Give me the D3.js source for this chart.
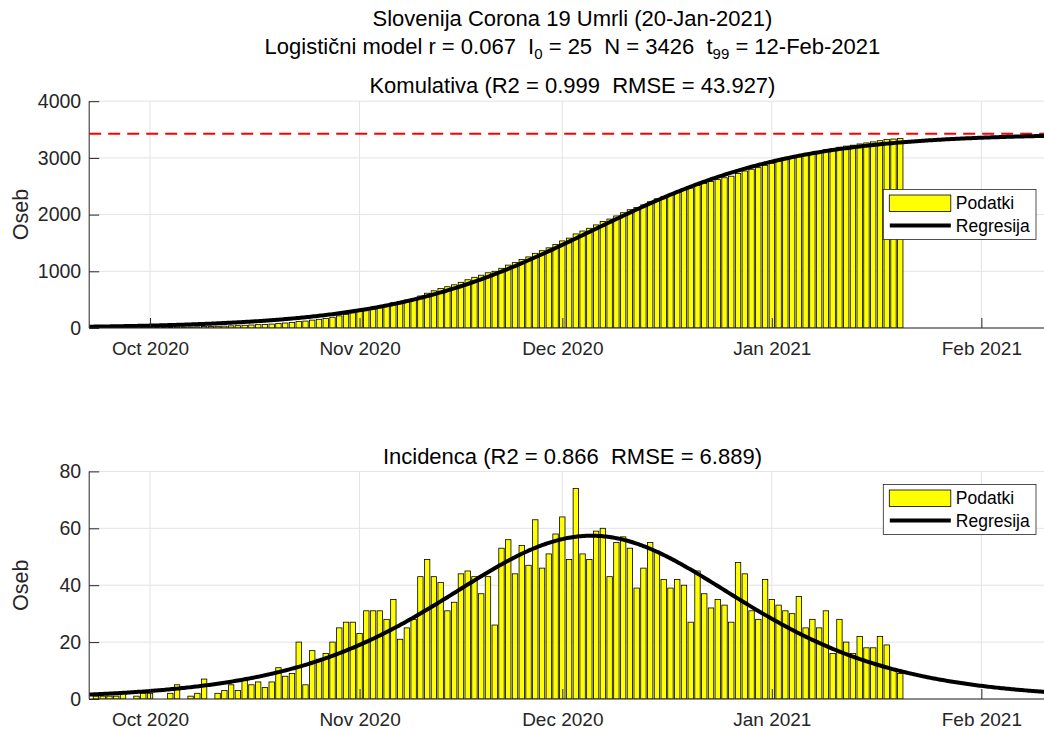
<!DOCTYPE html>
<html>
<head>
<meta charset="utf-8">
<script src="https://cdn.jsdelivr.net/npm/d3@7"></script>
<style>
  html, body { margin: 0; padding: 0; background: #fff; }
  svg { display: block; font-family: "Liberation Sans", Arial, Helvetica, sans-serif; }
  text { white-space: pre; }
</style>
</head>
<body>
<svg id="chart" width="1044" height="729"></svg>
<script>
// ---------------- DATA ----------------
const firstDate = "2020-09-23";           // first daily value
const xDomain = ["2020-09-22", "2021-02-12"];

// daily deaths (Incidenca), 23 Sep 2020 .. 20 Jan 2021
const incidence = [
  1,1,1,1,2,0,1,2,
  2,0,0,2,5,0,1,2,7,0,2,3,5,3,7,5,6,4,6,11,8,9,20,5,17,14,16,20,25,27,27,
  23,31,31,31,28,35,21,25,28,43,49,43,41,31,34,44,45,43,37,43,26,53,56,44,54,47,63,46,51,58,
  64,49,74,51,49,59,60,43,55,57,53,39,46,55,52,42,39,42,40,27,45,37,32,35,33,27,48,44,31,28,42,
  35,33,31,30,36,25,28,25,31,16,28,20,16,22,18,18,22,19,10,9
];

// cumulative deaths (Komulativa)
const cumulative = [
  1,2,3,4,6,6,7,9,
  11,11,11,13,18,18,19,21,28,28,30,33,38,41,48,53,59,63,69,80,88,97,117,122,139,153,169,189,214,241,268,
  291,322,353,384,412,447,468,493,521,564,613,656,697,728,762,806,851,894,931,974,1000,1053,1109,1153,1207,1254,1317,1363,1414,1472,
  1536,1585,1659,1710,1759,1818,1878,1921,1976,2033,2086,2125,2171,2226,2278,2320,2359,2401,2441,2468,2513,2550,2582,2617,2650,2677,2725,2769,2800,2828,2870,
  2905,2938,2969,2999,3035,3060,3088,3113,3144,3160,3188,3208,3224,3246,3264,3282,3304,3323,3333,3342
];

// logistic model parameters (from the title)
const modelR = 0.067;
const modelI0 = 25;
const modelN = 3426;

const yTicksTop = [0, 1000, 2000, 3000, 4000];
const yTicksBottom = [0, 20, 40, 60, 80];
const legendLabels = ["Podatki", "Regresija"];

const title1 = "Slovenija Corona 19 Umrli (20-Jan-2021)";
const titleTop = "Komulativa (R2 = 0.999  RMSE = 43.927)";
const titleBottom = "Incidenca (R2 = 0.866  RMSE = 6.889)";
const yLabel = "Oseb";

// ---------------- LAYOUT ----------------
const svg = d3.select("#chart");
const W = 1044, H = 729;
const left = 89.2, right = 1055.7;
const panels = [
  { top: 101.2, bottom: 328, values: cumulative, ticks: yTicksTop, max: 4000, title: titleTop, titleY: 93, legendY: 189.5, kind: "cum" },
  { top: 471.4, bottom: 699, values: incidence, ticks: yTicksBottom, max: 80, title: titleBottom, titleY: 464, legendY: 484.5, kind: "inc" }
];

const parse = d3.utcParse("%Y-%m-%d");
const t0 = parse(firstDate);
const dates = incidence.map((_, i) => d3.utcDay.offset(t0, i));
const x = d3.scaleUtc().domain(xDomain.map(parse)).range([left, right]);
const dayPx = x(d3.utcDay.offset(t0, 1)) - x(t0);
const barW = dayPx * 0.8;

const axisColor = "#262626";
const gridColor = "#e3e3e3";

// model functions (t in days from first date)
const K = modelN / modelI0 - 1;
const C = t => modelN / (1 + K * Math.exp(-modelR * t));
const dC = t => { const c = C(t); return modelR * c * (1 - c / modelN); };

svg.append("rect").attr("width", W).attr("height", H).attr("fill", "#fff");

// main title
svg.append("text").attr("x", (left + right) / 2).attr("y", 26)
  .attr("text-anchor", "middle").attr("font-size", 22).attr("fill", "#000").text(title1);

const t2 = svg.append("text").attr("x", (left + right) / 2).attr("y", 54)
  .attr("text-anchor", "middle").attr("font-size", 22).attr("fill", "#000");
t2.append("tspan").text("Logistični model r = " + modelR + "  I");
t2.append("tspan").attr("font-size", 15).attr("dy", 5).text("0");
t2.append("tspan").attr("dy", -5).text(" = " + modelI0 + "  N = " + modelN + "  t");
t2.append("tspan").attr("font-size", 15).attr("dy", 5).text("99");
t2.append("tspan").attr("dy", -5).text(" = 12-Feb-2021");

const fmt = d3.utcFormat("%b %Y");
const monthTicks = x.ticks(d3.utcMonth.every(1));

panels.forEach((p, pi) => {
  const y = d3.scaleLinear().domain([0, p.max]).range([p.bottom, p.top]);
  const g = svg.append("g");

  // grid
  g.append("g").selectAll("line").data(monthTicks).join("line")
    .attr("x1", d => x(d)).attr("x2", d => x(d))
    .attr("y1", p.top).attr("y2", p.bottom)
    .attr("stroke", gridColor).attr("stroke-width", 1);
  g.append("g").selectAll("line").data(p.ticks).join("line")
    .attr("x1", left).attr("x2", right)
    .attr("y1", d => y(d)).attr("y2", d => y(d))
    .attr("stroke", gridColor).attr("stroke-width", 1);

  const clipId = "clip" + pi;
  svg.append("clipPath").attr("id", clipId).append("rect")
    .attr("x", left).attr("y", p.top - 3).attr("width", right - left).attr("height", p.bottom - p.top + 3);

  const plot = g.append("g").attr("clip-path", `url(#${clipId})`);

  // bars
  plot.append("g").selectAll("rect").data(p.values).join("rect")
    .attr("x", (d, i) => x(dates[i]) - barW / 2)
    .attr("width", barW)
    .attr("y", d => y(d))
    .attr("height", d => p.bottom - y(d))
    .attr("fill", "#ffff00")
    .attr("stroke", "#000")
    .attr("stroke-width", 0.8);

  // regression curve
  const tStart = (x.domain()[0] - t0) / 864e5;
  const tEnd = (x.domain()[1] - t0) / 864e5;
  const ts = d3.range(tStart, tEnd + 0.001, 0.25);
  const f = p.kind === "cum" ? C : dC;
  const line = d3.line()
    .x(t => x(new Date(+t0 + t * 864e5)))
    .y(t => y(f(t)));
  if (p.kind === "cum") {
    plot.append("line").attr("x1", left).attr("x2", right)
      .attr("y1", y(modelN)).attr("y2", y(modelN))
      .attr("stroke", "#ff0000").attr("stroke-width", 2)
      .attr("stroke-dasharray", "12,7");
  }
  plot.append("path").datum(ts).attr("d", line)
    .attr("fill", "none").attr("stroke", "#000").attr("stroke-width", 4)
    .attr("stroke-linejoin", "round");

  // axes (MATLAB style ticks inside)
  const yAxis = d3.axisLeft(y).tickValues(p.ticks).tickSize(-10).tickPadding(8).tickFormat(d3.format("d"));
  const ya = svg.append("g").attr("transform", `translate(${left},0)`).call(yAxis);
  ya.select(".domain").attr("stroke", axisColor).attr("d", `M0,${p.top}V${p.bottom}`);
  ya.selectAll(".tick line").attr("stroke", axisColor);
  ya.selectAll(".tick text").attr("fill", axisColor).attr("font-size", 19.5)
    .attr("font-family", "Liberation Sans, Arial, sans-serif");

  const xAxis = d3.axisBottom(x).tickValues(monthTicks).tickSize(-10).tickPadding(13.5).tickFormat(fmt);
  const xa = svg.append("g").attr("transform", `translate(0,${p.bottom})`).call(xAxis);
  xa.select(".domain").attr("stroke", axisColor).attr("d", `M${left},0H${right}`);
  xa.selectAll(".tick line").attr("stroke", axisColor);
  xa.selectAll(".tick text").attr("fill", axisColor).attr("font-size", 19)
    .attr("font-family", "Liberation Sans, Arial, sans-serif");

  // panel title
  svg.append("text").attr("x", (left + right) / 2).attr("y", p.titleY)
    .attr("text-anchor", "middle").attr("font-size", 22).attr("fill", "#000").text(p.title);

  // y label
  svg.append("text").attr("transform", `translate(28,${(p.top + p.bottom) / 2}) rotate(-90)`)
    .attr("text-anchor", "middle").attr("font-size", 21.5).attr("fill", axisColor).text(yLabel);

  // legend
  const lg = svg.append("g").attr("transform", `translate(883.3,${p.legendY})`);
  lg.append("rect").attr("width", 152.7).attr("height", 50)
    .attr("fill", "#fff").attr("stroke", axisColor).attr("stroke-width", 0.8);
  lg.append("rect").attr("x", 6).attr("y", 5.5).attr("width", 61.5).attr("height", 16.5)
    .attr("fill", "#ffff00").attr("stroke", "#000").attr("stroke-width", 0.8);
  lg.append("line").attr("x1", 6.5).attr("x2", 67.5).attr("y1", 36).attr("y2", 36)
    .attr("stroke", "#000").attr("stroke-width", 4);
  lg.append("text").attr("x", 72.5).attr("y", 19.5).attr("font-size", 17.5).attr("fill", "#000").text(legendLabels[0]);
  lg.append("text").attr("x", 72.5).attr("y", 42.5).attr("font-size", 17.5).attr("fill", "#000").text(legendLabels[1]);
});
</script>
</body>
</html>
